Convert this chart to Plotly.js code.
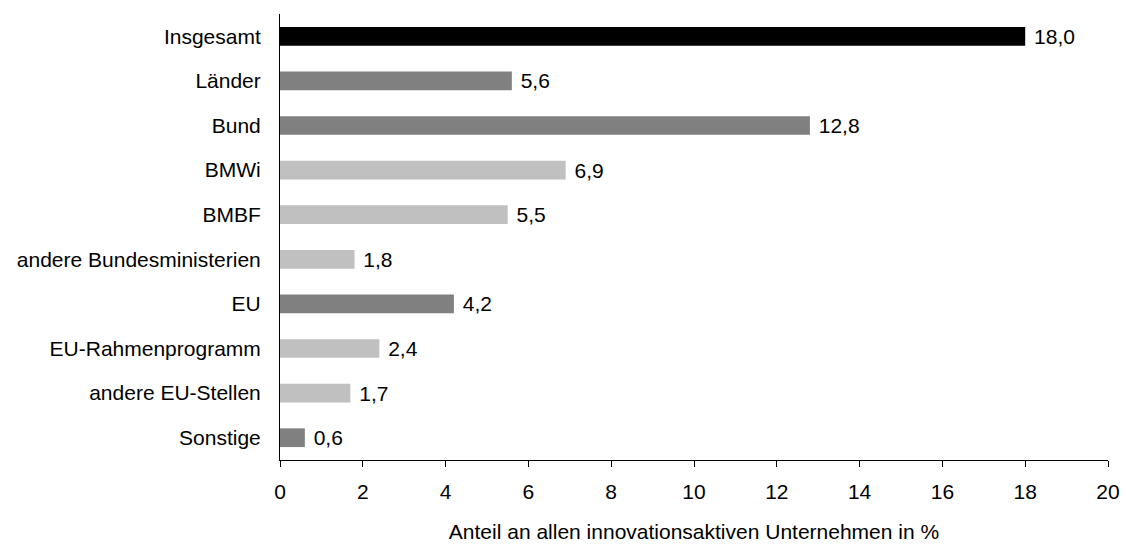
<!DOCTYPE html>
<html>
<head>
<meta charset="utf-8">
<script src="https://cdn.plot.ly/plotly-3.0.1.min.js"></script>
<style>html,body{margin:0;padding:0;background:#fff;}#chart{width:1126px;height:545px;}</style>
</head>
<body>
<div id="chart"></div>
<script>
const categories = ["Insgesamt", "Länder", "Bund", "BMWi", "BMBF", "andere Bundesministerien", "EU", "EU-Rahmenprogramm", "andere EU-Stellen", "Sonstige"];
const values = [18.0, 5.6, 12.8, 6.9, 5.5, 1.8, 4.2, 2.4, 1.7, 0.6];
const barColors = ["#000000", "#808080", "#808080", "#c0c0c0", "#c0c0c0", "#c0c0c0", "#808080", "#c0c0c0", "#c0c0c0", "#808080"];
const xTicks = [0, 2, 4, 6, 8, 10, 12, 14, 16, 18, 20];
const xTitle = "Anteil an allen innovationsaktiven Unternehmen in %";

const FONT = "Liberation Sans, Arial, sans-serif";
const trace = {
  type: "bar",
  orientation: "h",
  x: values,
  y: categories,
  marker: {color: barColors, line: {width: 0}},
  texttemplate: "\u00a0%{x:.1f}",
  textposition: "outside",
  constraintext: "none",
  cliponaxis: false,
  textfont: {family: FONT, size: 21, color: "#000"},
  hoverinfo: "none"
};
const layout = {
  width: 1126, height: 545,
  margin: {l: 280, r: 18, t: 14, b: 85},
  paper_bgcolor: "#fff", plot_bgcolor: "#fff",
  separators: ",.",
  font: {family: FONT, size: 21, color: "#000"},
  bargap: 0.58,
  showlegend: false,
  xaxis: {
    range: [0, 20], tickvals: xTicks, ticktext: xTicks.map(String),
    ticks: "outside", ticklen: 6, tickwidth: 1, tickcolor: "#000",
    showline: true, linecolor: "#000", linewidth: 1,
    showgrid: false, zeroline: false,
    ticklabelstandoff: 7,
    tickfont: {family: FONT, size: 21, color: "#000"},
    title: {text: xTitle, font: {family: FONT, size: 21, color: "#000"}, standoff: 22}
  },
  yaxis: {
    type: "category", categoryorder: "array", categoryarray: categories,
    autorange: "reversed",
    showline: true, linecolor: "#000", linewidth: 1,
    ticks: "", showgrid: false, zeroline: false,
    ticklabelstandoff: 14,
    tickfont: {family: FONT, size: 21, color: "#000"}
  }
};
Plotly.newPlot("chart", [trace], layout, {displayModeBar: false, staticPlot: true});
</script>
</body>
</html>
